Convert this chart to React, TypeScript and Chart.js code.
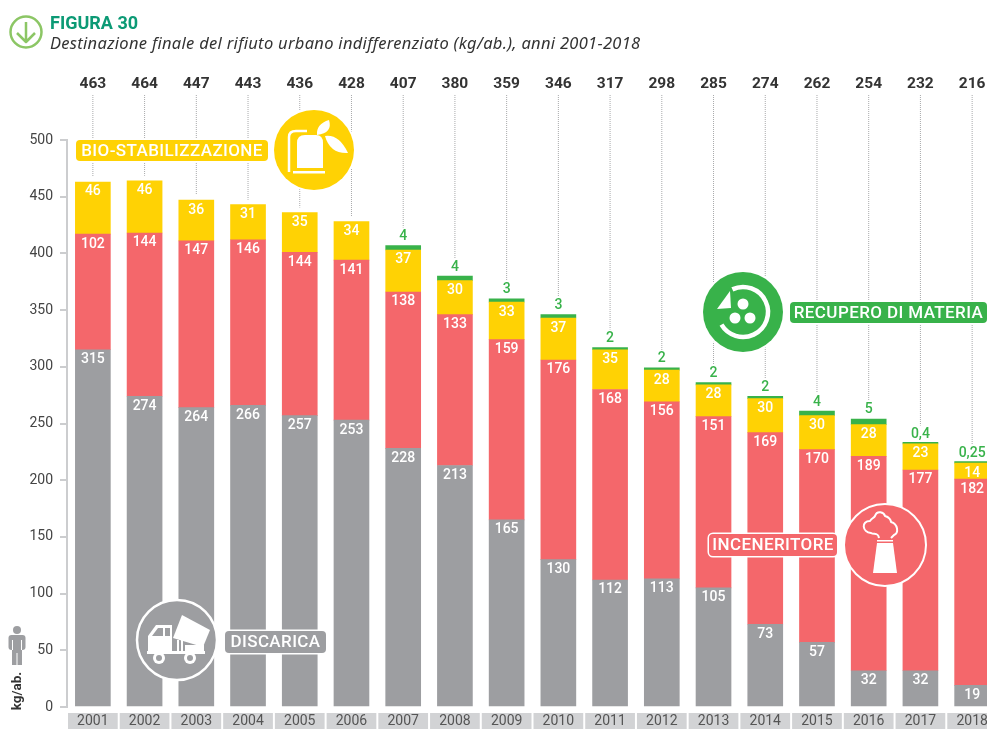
import React, { useEffect, useRef } from "react";
import { Chart, registerables } from "chart.js";

Chart.register(...registerables);

const years = ["2001","2002","2003","2004","2005","2006","2007","2008","2009","2010","2011","2012","2013","2014","2015","2016","2017","2018"];
const totals = [463,464,447,443,436,428,407,380,359,346,317,298,285,274,262,254,232,216];
const discarica = [315,274,264,266,257,253,228,213,165,130,112,113,105,73,57,32,32,19];
const inceneritore = [102,144,147,146,144,141,138,133,159,176,168,156,151,169,170,189,177,182];
const bioStabilizzazione = [46,46,36,31,35,34,37,30,33,37,35,28,28,30,30,28,23,14];
const recupero = [null,null,null,null,null,null,4,4,3,3,2,2,2,2,4,5,0.4,0.25];
const yTicks = [0,50,100,150,200,250,300,350,400,450,500];

const GREY = "#9d9ea1", RED = "#f4676b", YELLOW = "#ffd204", GREEN = "#38b24a";
const FONT = "Roboto, sans-serif";

function pill(ctx: CanvasRenderingContext2D, x: number, y: number, w: number, h: number, color: string, text: string) {
  ctx.beginPath();
  ctx.roundRect(x, y, w, h, 4);
  ctx.fillStyle = color;
  ctx.strokeStyle = "#fff";
  ctx.lineWidth = 3;
  ctx.stroke();
  ctx.fill();
  ctx.fillStyle = "#fff";
  ctx.font = `500 17px ${FONT}`;
  (ctx as any).letterSpacing = "0.4px";
  ctx.textAlign = "center";
  ctx.textBaseline = "middle";
  ctx.fillText(text, x + w / 2, y + h / 2 + 1);
  (ctx as any).letterSpacing = "0px";
}

function disc(ctx: CanvasRenderingContext2D, x: number, y: number, r: number, color: string) {
  ctx.beginPath();
  ctx.arc(x, y, r + 2, 0, Math.PI * 2);
  ctx.fillStyle = "#fff";
  ctx.fill();
  ctx.beginPath();
  ctx.arc(x, y, r, 0, Math.PI * 2);
  ctx.fillStyle = color;
  ctx.fill();
}

function ringDisc(ctx: CanvasRenderingContext2D, x: number, y: number, r: number, color: string, width: number) {
  ctx.beginPath();
  ctx.arc(x, y, r, 0, Math.PI * 2);
  ctx.fillStyle = color;
  ctx.fill();
  ctx.strokeStyle = "#fff";
  ctx.lineWidth = width;
  ctx.stroke();
}

function bioIcon(ctx: CanvasRenderingContext2D, cx: number, cy: number) {
  ctx.strokeStyle = "#fff";
  ctx.lineWidth = 2.5;
  ctx.lineJoin = "round";
  ctx.beginPath();
  ctx.moveTo(cx - 21, cy + 20);
  ctx.lineTo(cx - 21, cy - 15);
  ctx.quadraticCurveTo(cx - 21, cy - 21, cx - 14, cy - 21);
  ctx.lineTo(cx - 3, cy - 21);
  ctx.stroke();
  ctx.fillStyle = "#fff";
  ctx.beginPath();
  ctx.moveTo(cx - 13, cy + 16);
  ctx.lineTo(cx - 13, cy - 9);
  ctx.quadraticCurveTo(cx - 13, cy - 17, cx - 5, cy - 17);
  ctx.lineTo(cx + 6, cy - 17);
  ctx.quadraticCurveTo(cx + 13, cy - 17, cx + 13, cy - 9);
  ctx.lineTo(cx + 13, cy + 16);
  ctx.closePath();
  ctx.fill();
  ctx.fillRect(cx - 17, cy + 19, 32, 2.5);
  ctx.beginPath();
  ctx.moveTo(cx + 7, cy - 17);
  ctx.quadraticCurveTo(cx + 6, cy - 28, cx + 19, cy - 32);
  ctx.quadraticCurveTo(cx + 23, cy - 19, cx + 7, cy - 17);
  ctx.fill();
  ctx.beginPath();
  ctx.moveTo(cx + 15, cy - 16);
  ctx.quadraticCurveTo(cx + 29, cy - 18, cx + 38, cy + 1);
  ctx.quadraticCurveTo(cx + 20, cy + 2, cx + 15, cy - 16);
  ctx.fill();
}

function truckIcon(ctx: CanvasRenderingContext2D, cx: number, cy: number) {
  ctx.fillStyle = "#fff";
  ctx.fillRect(cx - 31, cy + 11, 58, 3);
  ctx.beginPath();
  ctx.moveTo(cx - 30, cy + 11);
  ctx.lineTo(cx - 30, cy - 4);
  ctx.lineTo(cx - 22, cy - 15);
  ctx.lineTo(cx - 6, cy - 15);
  ctx.lineTo(cx - 6, cy + 11);
  ctx.closePath();
  ctx.fill();
  ctx.fillStyle = GREY;
  ctx.beginPath();
  ctx.moveTo(cx - 26, cy - 4);
  ctx.lineTo(cx - 20, cy - 12);
  ctx.lineTo(cx - 15, cy - 12);
  ctx.lineTo(cx - 15, cy - 4);
  ctx.closePath();
  ctx.fill();
  ctx.fillRect(cx - 13, cy - 12, 5, 8);
  ctx.fillStyle = "#fff";
  ctx.fillRect(cx - 1, cy, 2, 11);
  ctx.fillRect(cx + 3, cy, 2, 11);
  ctx.fillRect(cx + 7, cy + 5, 19, 6);
  ctx.beginPath();
  ctx.moveTo(cx + 4, cy - 25);
  ctx.lineTo(cx - 5, cy - 2);
  ctx.lineTo(cx + 25, cy + 7);
  ctx.lineTo(cx + 32, cy - 10);
  ctx.closePath();
  ctx.fill();
  for (const wx of [cx - 19, cx + 12]) {
    ctx.beginPath();
    ctx.arc(wx, cy + 18, 6, 0, Math.PI * 2);
    ctx.fillStyle = "#fff";
    ctx.fill();
    ctx.beginPath();
    ctx.arc(wx, cy + 18, 3, 0, Math.PI * 2);
    ctx.fillStyle = GREY;
    ctx.fill();
  }
}

function recycleIcon(ctx: CanvasRenderingContext2D, cx: number, cy: number) {
  ctx.strokeStyle = "#fff";
  ctx.lineWidth = 4.5;
  ctx.beginPath();
  ctx.arc(cx, cy, 25, -Math.PI * 0.64, Math.PI * 0.83);
  ctx.stroke();
  ctx.fillStyle = "#fff";
  ctx.beginPath();
  ctx.moveTo(cx - 13, cy - 21);
  ctx.lineTo(cx - 26, cy - 3);
  ctx.lineTo(cx - 12, cy - 4);
  ctx.closePath();
  ctx.fill();
  for (const [dx, dy] of [[0, -8], [-8, 6], [7, 6]]) {
    ctx.beginPath();
    ctx.arc(cx + dx, cy + dy, 5.5, 0, Math.PI * 2);
    ctx.fill();
  }
}

function chimneyIcon(ctx: CanvasRenderingContext2D, cx: number, cy: number) {
  ctx.fillStyle = "#fff";
  ctx.beginPath();
  ctx.moveTo(cx - 12, cy + 28);
  ctx.lineTo(cx - 8, cy - 2);
  ctx.lineTo(cx + 8, cy - 2);
  ctx.lineTo(cx + 12, cy + 28);
  ctx.closePath();
  ctx.fill();
  ctx.fillRect(cx - 8, cy - 5, 16, 1.5);
  ctx.strokeStyle = "#fff";
  ctx.lineWidth = 2;
  ctx.beginPath();
  ctx.moveTo(cx - 6, cy - 7);
  ctx.bezierCurveTo(cx - 7, cy - 13, cx - 11, cy - 10, cx - 14, cy - 12);
  ctx.bezierCurveTo(cx - 23, cy - 13, cx - 24, cy - 24, cx - 15, cy - 24);
  ctx.bezierCurveTo(cx - 13, cy - 27, cx - 11, cy - 27, cx - 10, cy - 29);
  ctx.bezierCurveTo(cx - 8, cy - 35, cx - 1, cy - 33, cx, cy - 29);
  ctx.bezierCurveTo(cx + 4, cy - 28, cx + 6, cy - 25, cx + 6, cy - 23);
  ctx.bezierCurveTo(cx + 13, cy - 21, cx + 14, cy - 12, cx + 9, cy - 10);
  ctx.lineTo(cx + 6, cy - 7);
  ctx.stroke();
}

function personIcon(ctx: CanvasRenderingContext2D, cx: number, top: number) {
  ctx.fillStyle = "#9d9ea1";
  ctx.beginPath();
  ctx.arc(cx, top + 4, 4, 0, Math.PI * 2);
  ctx.fill();
  ctx.beginPath();
  ctx.roundRect(cx - 8.5, top + 9, 17, 15, 3);
  ctx.fill();
  ctx.fillRect(cx - 5, top + 20, 10, 19);
  ctx.fillStyle = "#fff";
  ctx.fillRect(cx - 5, top + 14, 1, 10);
  ctx.fillRect(cx + 4, top + 14, 1, 10);
  ctx.fillRect(cx - 0.5, top + 27, 1, 12);
}

function arrowIcon(ctx: CanvasRenderingContext2D, cx: number, cy: number) {
  ctx.strokeStyle = "#8cc665";
  ctx.lineWidth = 2.5;
  ctx.beginPath();
  ctx.arc(cx, cy, 15.5, 0, Math.PI * 2);
  ctx.stroke();
  ctx.beginPath();
  ctx.moveTo(cx, cy - 10);
  ctx.lineTo(cx, cy + 10);
  ctx.moveTo(cx - 9, cy + 1);
  ctx.lineTo(cx, cy + 10);
  ctx.lineTo(cx + 9, cy + 1);
  ctx.stroke();
}

const decorations = {
  id: "decorations",
  beforeDraw(chart: any) {
    const { ctx, scales } = chart;
    const { x } = scales;
    ctx.save();
    const step = x.getPixelForTick(1) - x.getPixelForTick(0);
    years.forEach((_, i) => {
      const cx = x.getPixelForTick(i);
      ctx.fillStyle = "#d2d3d5";
      ctx.fillRect(cx - step / 2 + 1, 713, step - 2, 16);
    });
    ctx.restore();
  },
  beforeDatasetsDraw(chart: any) {
    const { ctx, scales } = chart;
    const { x, y } = scales;
    ctx.save();
    years.forEach((yr, i) => {
      const cx = x.getPixelForTick(i);
      const topValue = discarica[i] + inceneritore[i] + bioStabilizzazione[i] + (recupero[i] ?? 0);
      const gap = recupero[i] == null ? 5 : 18;
      ctx.strokeStyle = "#a8a9ab";
      ctx.lineWidth = 1;
      ctx.setLineDash([1, 1]);
      ctx.beginPath();
      ctx.moveTo(cx, 95);
      ctx.lineTo(cx, y.getPixelForValue(topValue) - gap);
      ctx.stroke();
      ctx.setLineDash([]);
      ctx.fillStyle = "#333";
      ctx.font = `bold 15.5px ${FONT}`;
      ctx.textAlign = "center";
      ctx.textBaseline = "middle";
      ctx.fillText(String(totals[i]), cx, 84);
    });
    ctx.restore();
  },
  afterDatasetsDraw(chart: any) {
    const { ctx, scales } = chart;
    const { x, y } = scales;
    ctx.save();
    ctx.textAlign = "center";
    ctx.textBaseline = "middle";
    years.forEach((_, i) => {
      const cx = x.getPixelForTick(i);
      let base = 0;
      [discarica, inceneritore, bioStabilizzazione].forEach((series) => {
        base += series[i];
        ctx.fillStyle = "#fff";
        ctx.font = `500 14px ${FONT}`;
        ctx.fillText(String(series[i]), cx, y.getPixelForValue(base) + 10);
      });
      const g = recupero[i];
      if (g != null) {
        ctx.fillStyle = GREEN;
        ctx.font = `500 14px ${FONT}`;
        ctx.fillText(String(g).replace(".", ","), cx, y.getPixelForValue(base + g) - 9);
      }
    });

    // call-outs
    pill(ctx, 76, 140, 192, 21, YELLOW, "BIO-STABILIZZAZIONE");
    disc(ctx, 314, 150, 40, YELLOW);
    bioIcon(ctx, 310, 152);

    ringDisc(ctx, 177, 640, 40, GREY, 2.5);
    truckIcon(ctx, 178, 640);
    pill(ctx, 225, 631, 101, 22, GREY, "DISCARICA");

    disc(ctx, 743, 312, 40, GREEN);
    recycleIcon(ctx, 743, 312);
    pill(ctx, 790, 302, 197, 21, GREEN, "RECUPERO DI MATERIA");

    pill(ctx, 709, 534, 128, 22, RED, "INCENERITORE");
    ringDisc(ctx, 885, 545, 41, RED, 2);
    chimneyIcon(ctx, 885, 545);

    // heading
    arrowIcon(ctx, 26, 32);
    ctx.textAlign = "left";
    ctx.fillStyle = "#0c9a75";
    ctx.font = `bold 18px ${FONT}`;
    ctx.fillText("FIGURA 30", 50, 24);
    ctx.fillStyle = "#333";
    ctx.font = `italic 16.5px "Noto Sans", sans-serif`;
    (ctx as any).letterSpacing = "0.3px";
    ctx.fillText("Destinazione finale del rifiuto urbano indifferenziato (kg/ab.), anni 2001-2018", 50, 44);
    (ctx as any).letterSpacing = "0px";

    // unit
    personIcon(ctx, 17, 626);
    ctx.translate(18, 691);
    ctx.rotate(-Math.PI / 2);
    ctx.textAlign = "center";
    ctx.fillStyle = "#333";
    ctx.font = `bold 13.5px ${FONT}`;
    ctx.fillText("kg/ab.", 0, 0);
    ctx.restore();
  },
};

export default function App() {
  const ref = useRef<HTMLCanvasElement>(null);
  useEffect(() => {
    const bar = { barThickness: 35, stack: "s", borderWidth: 0 };
    const chart = new Chart(ref.current!, {
      type: "bar",
      data: {
        labels: years,
        datasets: [
          { label: "Discarica", data: discarica, backgroundColor: GREY, ...bar },
          { label: "Inceneritore", data: inceneritore, backgroundColor: RED, ...bar },
          { label: "Bio-stabilizzazione", data: bioStabilizzazione, backgroundColor: YELLOW, ...bar },
          { label: "Recupero di materia", data: recupero, backgroundColor: GREEN, minBarLength: 1.5, ...bar },
        ],
      },
      options: {
        animation: false,
        responsive: false,
        layout: { padding: { top: 140, bottom: 0, left: 0, right: 0 } },
        plugins: { legend: { display: false }, title: { display: false }, tooltip: { enabled: false } },
        scales: {
          x: {
            stacked: true,
            grid: { display: false, drawTicks: false },
            border: { display: false },
            afterFit: (s: any) => { s.height = 28; },
            ticks: { color: "#555", font: { family: FONT, size: 14 }, padding: 6, maxRotation: 0, autoSkip: false },
          },
          y: {
            stacked: true,
            min: 0,
            max: 500,
            afterFit: (s: any) => { s.width = 67; },
            grid: { drawOnChartArea: false, drawTicks: true, tickLength: 7, color: "#cccdcf", lineWidth: 2 },
            border: { display: true, color: "#cccdcf", width: 2 },
            afterBuildTicks: (s: any) => { s.ticks = yTicks.map((value) => ({ value })); },
            ticks: { color: "#444", font: { family: FONT, size: 14 }, padding: 7 },
          },
        },
      } as any,
      plugins: [decorations],
    });
    return () => chart.destroy();
  }, []);
  return (
    <div style={{ position: "fixed", left: 0, top: 0, width: 987, height: 735, overflow: "hidden", background: "#fff" }}>
      <canvas ref={ref} width={998} height={735} style={{ display: "block", width: 998, height: 735 }} />
    </div>
  );
}
